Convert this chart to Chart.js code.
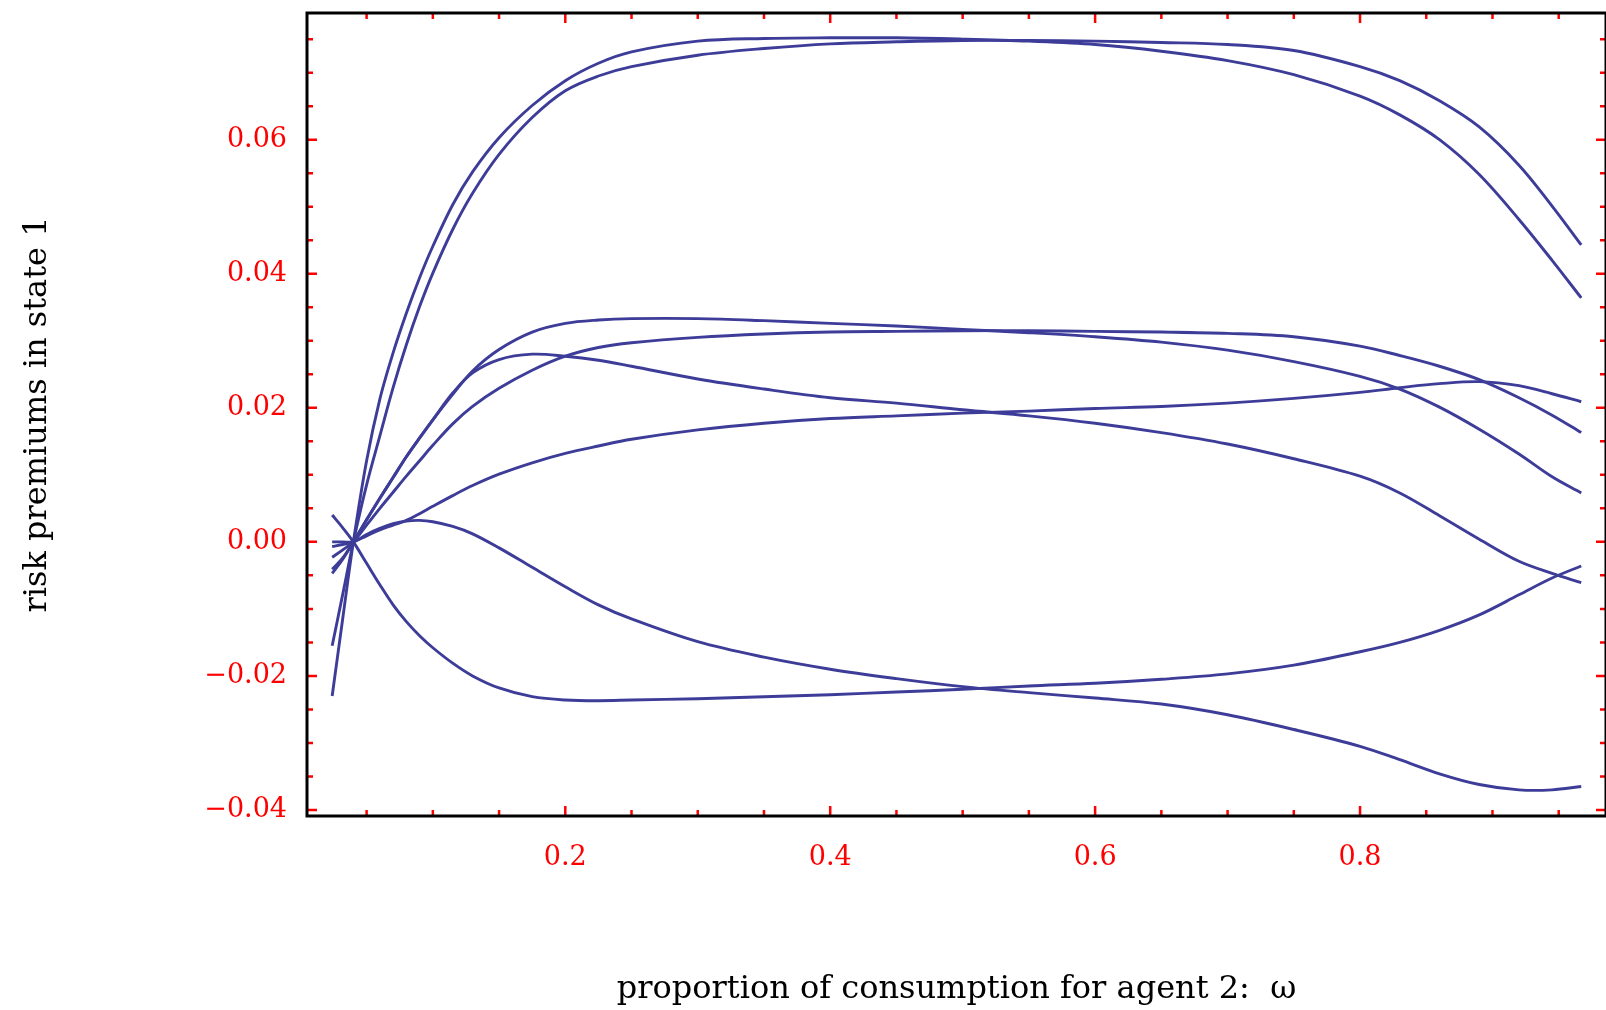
<!DOCTYPE html>
<html><head><meta charset="utf-8">
<script src="https://cdn.jsdelivr.net/npm/chart.js@4.4.0/dist/chart.umd.min.js"></script>
<style>html,body{margin:0;padding:0;background:#fff;} #wrap{width:1606px;height:1010px;position:relative;}</style>
</head><body><div id="wrap"><canvas id="c"></canvas></div>
<script>
// omega grid (proportion of consumption for agent 2)
const X = [0.024, 0.032, 0.04, 0.05, 0.06, 0.07, 0.08, 0.09, 0.1, 0.115, 0.13, 0.15, 0.175, 0.2, 0.225, 0.25, 0.3, 0.35, 0.4, 0.45, 0.5, 0.55, 0.6, 0.65, 0.7, 0.75, 0.8, 0.83, 0.86, 0.89, 0.92, 0.945, 0.967];

const SERIES_A1 = [-0.0230, -0.0114, 0, 0.0121, 0.0213, 0.0282, 0.0341, 0.0394, 0.0441, 0.0503, 0.0552, 0.0603, 0.0651, 0.0688, 0.0714, 0.0731, 0.0747, 0.0751, 0.0752, 0.0752, 0.0750, 0.0747, 0.0742, 0.0732, 0.0718, 0.0697, 0.0665, 0.0637, 0.0600, 0.0548, 0.0481, 0.0420, 0.0364];
const SERIES_A2 = [-0.0155, -0.0078, 0, 0.0085, 0.0158, 0.0230, 0.0294, 0.0351, 0.0401, 0.0466, 0.0520, 0.0578, 0.0633, 0.0673, 0.0695, 0.0709, 0.0726, 0.0736, 0.0743, 0.0746, 0.0748, 0.0748, 0.0747, 0.0745, 0.0742, 0.0733, 0.0709, 0.0688, 0.0658, 0.0619, 0.0562, 0.0501, 0.0443];
const SERIES_C  = [-0.0047, -0.0026, 0, 0.0033, 0.0065, 0.0096, 0.0127, 0.0155, 0.0182, 0.0220, 0.0255, 0.0287, 0.0313, 0.0326, 0.0331, 0.0333, 0.0333, 0.0330, 0.0326, 0.0322, 0.0317, 0.0312, 0.0306, 0.0298, 0.0286, 0.0269, 0.0247, 0.0228, 0.0201, 0.0168, 0.0131, 0.0097, 0.0073];
const SERIES_D  = [-0.0023, -0.0012, 0, 0.0025, 0.0050, 0.0074, 0.0098, 0.0121, 0.0144, 0.0176, 0.0202, 0.0229, 0.0256, 0.0277, 0.0290, 0.0297, 0.0305, 0.0310, 0.0313, 0.0314, 0.0315, 0.0315, 0.0314, 0.0313, 0.0311, 0.0306, 0.0292, 0.0278, 0.0262, 0.0242, 0.0215, 0.0189, 0.0163];
const SERIES_E  = [-0.0041, -0.0024, 0, 0.0033, 0.0065, 0.0096, 0.0127, 0.0155, 0.0182, 0.0222, 0.0252, 0.0272, 0.0280, 0.0277, 0.0271, 0.0262, 0.0243, 0.0228, 0.0215, 0.0207, 0.0197, 0.0188, 0.0177, 0.0163, 0.0146, 0.0124, 0.0098, 0.0073, 0.0039, 0.0004, -0.0029, -0.0047, -0.0061];
const SERIES_F  = [-0.0007, -0.0004, 0, 0.0009, 0.0018, 0.0025, 0.0032, 0.0042, 0.0053, 0.0069, 0.0084, 0.0101, 0.0118, 0.0132, 0.0143, 0.0153, 0.0167, 0.0177, 0.0184, 0.0188, 0.0192, 0.0195, 0.0199, 0.0202, 0.0207, 0.0214, 0.0223, 0.0230, 0.0236, 0.0239, 0.0233, 0.0221, 0.0209];
const SERIES_G  = [0.0000, 0.0000, 0, 0.0011, 0.0020, 0.0027, 0.0031, 0.0032, 0.0030, 0.0023, 0.0012, -0.0009, -0.0038, -0.0067, -0.0094, -0.0115, -0.0149, -0.0172, -0.0190, -0.0204, -0.0216, -0.0225, -0.0233, -0.0242, -0.0258, -0.0280, -0.0305, -0.0325, -0.0346, -0.0362, -0.0370, -0.0370, -0.0365];
const SERIES_H  = [0.0040, 0.0021, 0, -0.0032, -0.0064, -0.0094, -0.0119, -0.0140, -0.0158, -0.0181, -0.0200, -0.0218, -0.0231, -0.0236, -0.0237, -0.0236, -0.0234, -0.0231, -0.0228, -0.0224, -0.0220, -0.0215, -0.0211, -0.0205, -0.0197, -0.0184, -0.0164, -0.0150, -0.0132, -0.0109, -0.0079, -0.0054, -0.0036];

const ALL_SERIES = [SERIES_A1, SERIES_A2, SERIES_C, SERIES_D, SERIES_E, SERIES_F, SERIES_G, SERIES_H];

const X_TICKS = [0.2, 0.4, 0.6, 0.8];
const X_TICK_LABELS = ['0.2', '0.4', '0.6', '0.8'];
const Y_TICKS = [-0.04, -0.02, 0, 0.02, 0.04, 0.06];
const Y_TICK_LABELS = ['\u22120.04', '\u22120.02', '0.00', '0.02', '0.04', '0.06'];
const X_MINOR_STEP = 0.05;
const Y_MINOR_STEP = 0.005;

const X_TITLE = 'proportion of consumption for agent 2:  \u03C9';
const Y_TITLE = 'risk premiums in state 1';

const LINE_COLOR = '#3d3d99';
const TICK_COLOR = '#ff0000';
const SERIF = "'DejaVu Serif', serif";

const datasets = ALL_SERIES.map((s, i) => ({
  label: 'curve ' + (i + 1),
  data: X.map((x, k) => ({ x: x, y: s[k] })),
  borderColor: LINE_COLOR,
  borderWidth: 2.9,
  pointRadius: 0,
  fill: false,
  tension: 0.35
}));

const frameTicks = {
  id: 'frameTicks',
  afterDatasetsDraw(chart) {
    const ctx = chart.ctx;
    const a = chart.chartArea;
    const xs = chart.scales.x, ys = chart.scales.y;
    ctx.save();
    ctx.strokeStyle = TICK_COLOR;
    ctx.lineWidth = 2.5;
    ctx.lineCap = 'butt';
    const near = (v, arr) => arr.some(t => Math.abs(t - v) < 1e-9);
    for (let k = 1; k * X_MINOR_STEP < xs.max; k++) {
      const v = +(k * X_MINOR_STEP).toFixed(6);
      if (v < xs.min) continue;
      const px = xs.getPixelForValue(v);
      const len = near(v, X_TICKS) ? 10 : 6;
      ctx.beginPath();
      ctx.moveTo(px, a.bottom); ctx.lineTo(px, a.bottom - len);
      ctx.moveTo(px, a.top); ctx.lineTo(px, a.top + len);
      ctx.stroke();
    }
    for (let k = Math.ceil(ys.min / Y_MINOR_STEP); k * Y_MINOR_STEP <= ys.max; k++) {
      const v = +(k * Y_MINOR_STEP).toFixed(6);
      const py = ys.getPixelForValue(v);
      const len = near(v, Y_TICKS) ? 10 : 6;
      ctx.beginPath();
      ctx.moveTo(a.left, py); ctx.lineTo(a.left + len, py);
      ctx.moveTo(a.right, py); ctx.lineTo(a.right - len, py);
      ctx.stroke();
    }
    ctx.strokeStyle = '#000';
    ctx.lineWidth = 3;
    ctx.strokeRect(a.left, a.top, a.right - a.left, a.bottom - a.top);
    ctx.restore();
  }
};

new Chart(document.getElementById('c'), {
  type: 'line',
  data: { datasets },
  options: {
    responsive: true,
    maintainAspectRatio: false,
    animation: false,
    layout: { padding: { top: 13, right: 0, left: 0, bottom: 0 } },
    plugins: { legend: { display: false }, tooltip: { enabled: false } },
    scales: {
      x: {
        type: 'linear',
        min: 0.005,
        max: 0.9857,
        grid: { display: false, drawTicks: false, tickLength: 0 },
        border: { display: false },
        afterBuildTicks: s => { s.ticks = X_TICKS.map(v => ({ value: v })); },
        afterFit: s => { s.height = 194; s.paddingLeft = 0; s.paddingRight = 0; },
        ticks: {
          color: TICK_COLOR,
          font: { family: SERIF, size: 27 },
          padding: 26,
          maxRotation: 0,
          autoSkip: false,
          callback: v => { const i = X_TICKS.findIndex(t => Math.abs(t - v) < 1e-9); return i >= 0 ? X_TICK_LABELS[i] : ''; }
        },
        title: { display: true, text: X_TITLE, color: '#000', font: { family: SERIF, size: 32 }, padding: { top: 0, bottom: 1 } }
      },
      y: {
        type: 'linear',
        min: -0.0409,
        max: 0.0789,
        grid: { display: false, drawTicks: false, tickLength: 0 },
        border: { display: false },
        afterBuildTicks: s => { s.ticks = Y_TICKS.map(v => ({ value: v })); },
        afterFit: s => { s.width = 307; s.paddingTop = 0; s.paddingBottom = 0; },
        ticks: {
          color: TICK_COLOR,
          font: { family: SERIF, size: 27 },
          padding: 20,
          autoSkip: false,
          callback: v => { const i = Y_TICKS.findIndex(t => Math.abs(t - v) < 1e-9); return i >= 0 ? Y_TICK_LABELS[i] : ''; }
        },
        title: { display: true, text: Y_TITLE, color: '#000', font: { family: SERIF, size: 32 }, padding: { top: 18, bottom: 0 } }
      }
    }
  },
  plugins: [frameTicks]
});
</script>
</body></html>
